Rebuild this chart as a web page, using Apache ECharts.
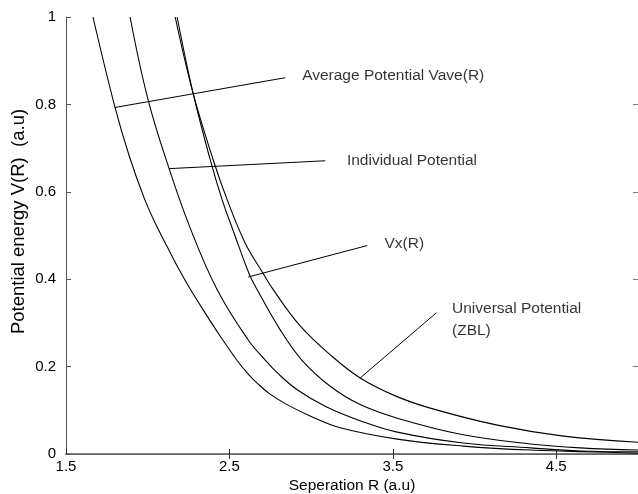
<!DOCTYPE html>
<html>
<head>
<meta charset="utf-8">
<script src="https://cdn.jsdelivr.net/npm/echarts@6/dist/echarts.min.js"></script>
<style>
html,body{margin:0;padding:0;background:#fff;}
#chart{width:638px;height:494px;}
</style>
</head>
<body>
<div id="chart"></div>
<script>
// ---- data ----
const xTicks = [1.5, 2.5, 3.5, 4.5];
const xTicksTop = [2.5, 3.5, 4.5];
const yTicksRight = [0.2, 0.4, 0.6, 0.8];

const vaveR = [1.665,1.800,1.886,1.978,2.045,2.125,2.198,2.259,2.351,2.443,2.547,2.615,2.676,2.749,2.853,2.994,3.178,3.527,3.931,4.342,5.0];
const vaveV = [1.0,0.793,0.683,0.586,0.529,0.470,0.418,0.378,0.323,0.270,0.214,0.183,0.160,0.137,0.113,0.087,0.060,0.034,0.018,0.009,0.002];

const indivR = [1.892,2.002,2.131,2.259,2.425,2.615,2.719,2.792,2.915,3.092,3.300,3.527,3.931,4.342,4.648,5.0];
const indivV = [1.0,0.811,0.653,0.518,0.376,0.261,0.215,0.186,0.147,0.108,0.076,0.050,0.025,0.014,0.007,0.005];

const vxR = [2.180,2.278,2.382,2.455,2.523,2.621,2.670,2.811,2.943,3.117,3.300,3.527,3.931,4.342,4.648,5.0];
const vxV = [1.0,0.825,0.674,0.582,0.511,0.412,0.376,0.284,0.215,0.155,0.113,0.082,0.044,0.023,0.014,0.009];

const zblR = [2.168,2.278,2.400,2.486,2.596,2.700,2.768,2.933,3.117,3.300,3.515,3.729,4.139,4.544,5.0];
const zblV = [1.0,0.825,0.674,0.582,0.483,0.417,0.376,0.293,0.227,0.174,0.133,0.105,0.066,0.041,0.027];

// annotation leader lines (data coords) and text anchors
const labelTexts = ['Average Potential Vave(R)', 'Individual Potential', 'Vx(R)', 'Universal Potential\n(ZBL)'];
const leaderStart = [[1.800,0.793],[2.131,0.653],[2.615,0.405],[3.300,0.174]];
const leaderEnd   = [[2.841,0.861],[3.086,0.671],[3.343,0.477],[3.766,0.323]];
const labelAnchor = [[2.945,0.866],[3.219,0.670],[3.449,0.482],[3.862,0.307]];

const FONT = "'Liberation Sans', Arial, sans-serif";
const zip = (a, b) => a.map((v, i) => [v, b[i]]);

const curveSeries = [[vaveR, vaveV], [indivR, indivV], [vxR, vxV], [zblR, zblV]].map(([r, v]) => ({
  type: 'line', data: zip(r, v), showSymbol: false, smooth: 0.4,
  lineStyle: {color: '#000', width: 1.1}, silent: true
}));

const leaderSeries = leaderStart.map((s, i) => ({
  type: 'line', data: [s, leaderEnd[i]], showSymbol: false,
  lineStyle: {color: '#000', width: 1}, silent: true
}));

const textSeries = {
  type: 'scatter', symbolSize: 0, silent: true,
  data: labelAnchor.map((p, i) => ({value: p, name: labelTexts[i]})),
  label: {
    show: true, position: [0, 0], align: 'left', verticalAlign: 'middle',
    formatter: p => p.name, color: '#000', fontSize: 15.5, fontFamily: FONT, lineHeight: 22
  }
};

const chart = echarts.init(document.getElementById('chart'), null, {renderer: 'canvas'});
chart.setOption({
  animation: false,
  backgroundColor: '#fff',
  grid: {left: 66, right: 0, top: 17, bottom: 40, containLabel: false, outerBoundsMode: 'none'},
  xAxis: [{
    type: 'value', min: 1.5, max: 5.0, position: 'bottom',
    name: 'Seperation R (a.u)', nameLocation: 'middle', nameGap: 24, nameMoveOverlap: false,
    nameTextStyle: {fontSize: 15.5, fontFamily: FONT, color: '#000'},
    axisLine: {show: true, lineStyle: {color: '#808080', width: 2}},
    axisTick: {show: true, inside: true, length: 5, customValues: xTicks, lineStyle: {color: '#333'}},
    axisLabel: {show: true, customValues: xTicks, formatter: v => v.toFixed(1), margin: 5,
      fontSize: 15, fontFamily: FONT, color: '#000'},
    splitLine: {show: false}
  }, {
    type: 'value', min: 1.5, max: 5.0, position: 'top',
    axisLine: {show: true, lineStyle: {color: '#666', width: 1}},
    axisTick: {show: true, inside: true, length: 5, customValues: xTicksTop, lineStyle: {color: '#333'}},
    axisLabel: {show: false},
    splitLine: {show: false}
  }],
  yAxis: [{
    type: 'value', min: 0, max: 1, interval: 0.2, position: 'left',
    name: 'Potential energy V(R)  (a.u)', nameLocation: 'middle', nameGap: 38, nameMoveOverlap: false,
    nameTextStyle: {fontSize: 18.5, fontFamily: FONT, color: '#000', padding: [0, 0, 0, 28]},
    axisLine: {show: true, lineStyle: {color: '#555', width: 1}},
    axisTick: {show: true, inside: true, length: 5, lineStyle: {color: '#555'}},
    axisLabel: {margin: 10, fontSize: 15, fontFamily: FONT, color: '#000'},
    splitLine: {show: false}
  }, {
    type: 'value', min: 0, max: 1, position: 'right',
    axisLine: {show: false},
    axisTick: {show: true, inside: true, length: 5, customValues: yTicksRight, lineStyle: {color: '#777'}},
    axisLabel: {show: false},
    splitLine: {show: false}
  }],
  series: [...curveSeries, ...leaderSeries, textSeries]
});
</script>
</body>
</html>
